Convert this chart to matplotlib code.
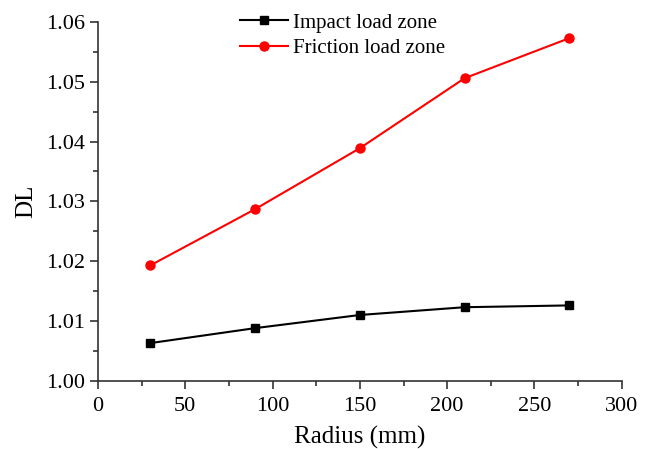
import numpy as np
import matplotlib
matplotlib.use('Agg')
import matplotlib.pyplot as plt
from matplotlib.ticker import MultipleLocator

# 数据
radius = [30, 90, 150, 210, 270]
impact_dl = [1.0063, 1.0088, 1.0110, 1.0123, 1.0126]
friction_dl = [1.0193, 1.0287, 1.0389, 1.0506, 1.0573]

plt.rcParams['font.family'] = ['Liberation Serif', 'DejaVu Serif']

fig = plt.figure(figsize=(6.49, 4.49), dpi=100)
ax = fig.add_axes([0.151, 0.152, 0.807, 0.799])

ax.plot(radius, impact_dl, color='black', marker='s', markersize=6,
        linewidth=1.5, label='Impact load zone')
ax.plot(radius, friction_dl, color='red', marker='o', markersize=6.5,
        linewidth=1.5, label='Friction load zone')

ax.set_xlim(0, 300)
ax.set_ylim(1.00, 1.06)
ax.xaxis.set_major_locator(MultipleLocator(50))
ax.xaxis.set_minor_locator(MultipleLocator(25))
ax.yaxis.set_major_locator(MultipleLocator(0.01))
ax.yaxis.set_minor_locator(MultipleLocator(0.005))
ax.yaxis.set_major_formatter(matplotlib.ticker.FormatStrFormatter('%.2f'))

for s in ['top', 'right']:
    ax.spines[s].set_visible(False)
for s in ['left', 'bottom']:
    ax.spines[s].set_linewidth(1.2)
    ax.spines[s].set_color('#333333')

ax.tick_params(which='major', direction='out', length=6, width=1.2,
               labelsize=16, color='#333333')
ax.tick_params(axis='x', which='major', pad=6)
ax.tick_params(which='minor', direction='out', length=3.5, width=1.2,
               color='#333333')

ax.set_xlabel('Radius (mm)', fontsize=18, labelpad=7)
ax.set_ylabel('DL', fontsize=18, labelpad=6)

ax.legend(loc='upper left', bbox_to_anchor=(0.271, 1.025), frameon=False,
          fontsize=15, handlelength=2.3, handletextpad=0.25,
          labelspacing=0.3, borderpad=0, borderaxespad=0)

fig.savefig('out.png', dpi=100)
